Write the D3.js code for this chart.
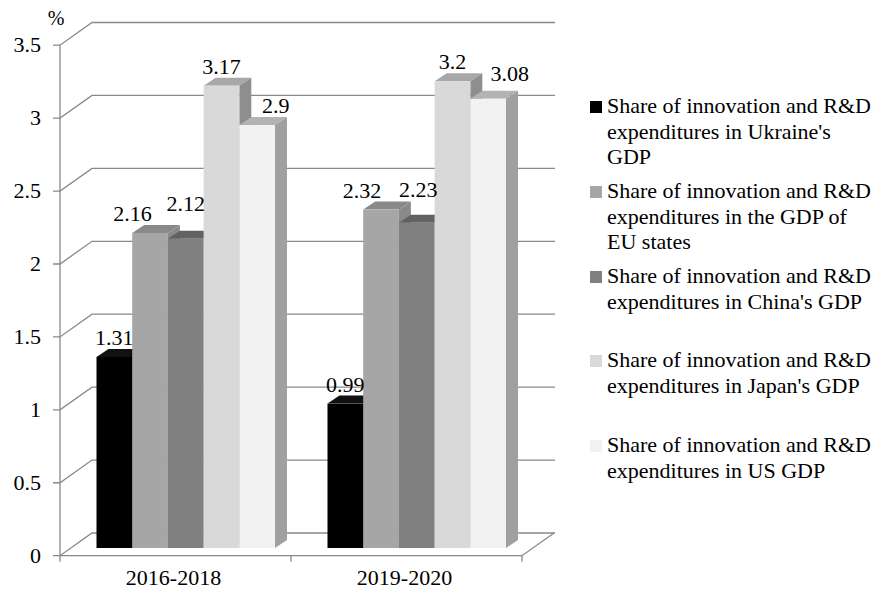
<!DOCTYPE html>
<html>
<head>
<meta charset="utf-8">
<script src="https://cdn.jsdelivr.net/npm/d3@7"></script>
<style>
  body { margin: 0; background: #fff; }
</style>
</head>
<body>
<svg id="chart" width="877" height="590"></svg>
<script>
// Data
var categories = ['2016-2018', '2019-2020']
var ukraine = [1.31, 0.99]
var eu = [2.16, 2.32]
var china = [2.12, 2.23]
var japan = [3.17, 3.2]
var usa = [2.9, 3.08]
var yTicks = [0, 0.5, 1, 1.5, 2, 2.5, 3, 3.5]

var legendLines = [
  ['Share of innovation and R&D', "expenditures in Ukraine's", 'GDP'],
  ['Share of innovation and R&D', 'expenditures in the GDP of', 'EU states'],
  ['Share of innovation and R&D', "expenditures in China's GDP"],
  ['Share of innovation and R&D', "expenditures in Japan's GDP"],
  ['Share of innovation and R&D', 'expenditures in US GDP']
]

// label nudges [dx, dy] per series, per category (Excel moved some labels)
var labelNudge = [
  [[0, 0], [0, 0]],
  [[-17.5, 0], [-19, 0]],
  [[0, -16], [1.5, -14]],
  [[0, 0], [0, 0]],
  [[18.5, 0], [21.5, -6]]
]

var series = [ukraine, eu, china, japan, usa]
// front, top, side
var colors = [
  ['#000000', '#111111', '#000000'],
  ['#a6a6a6', '#898989', '#8a8a8a'],
  ['#808080', '#626262', '#5e5e5e'],
  ['#d9d9d9', '#a8a8a8', '#8e8e8e'],
  ['#f2f2f2', '#b3b3b3', '#a0a0a0']
]

var FONT = '"Liberation Serif"'

var svg = d3.select('#chart')

// geometry
var frontBase = 555.7, backBase = 533, barBase = 548
var axisX = 60, wallX = 92, wallRight = 555
var depthX = wallX - axisX, depthY = backBase - frontBase
var barDX = 12, barDY = -8

var h = d3.scaleLinear().domain([0, 3.5]).range([0, 510.5])
var x = d3.scaleBand().domain(categories).range([60, 522])
var barW = 35.7
var inner = d3.scaleBand().domain(d3.range(5)).range([36.5, 36.5 + barW * 5])

var gridColor = '#898989'

// gridlines on back wall + connectors to front axis
var grid = svg.append('g').attr('stroke', gridColor).attr('stroke-width', 1.3).attr('fill', 'none')
yTicks.forEach(function(t){
  var yf = frontBase - h(t), yb = backBase - h(t)
  grid.append('path').attr('d', 'M' + (axisX - 7) + ',' + yf + 'H' + axisX + 'L' + wallX + ',' + yb + 'H' + wallRight)
})
// front axis and floor
grid.append('path').attr('d', 'M' + axisX + ',' + (frontBase - h(3.5)) + 'V' + frontBase)
grid.append('path').attr('d', 'M' + axisX + ',' + frontBase + 'H522L' + (522 + depthX) + ',' + (frontBase + depthY))
;[60, 291, 522].forEach(function(px){
  grid.append('path').attr('d', 'M' + px + ',' + frontBase + 'V' + (frontBase + 6))
})

// tick labels
svg.append('g').selectAll('text').data(yTicks).join('text')
  .attr('x', 41)
  .attr('y', function(d){ return frontBase - h(d) + 7 })
  .attr('text-anchor', 'end')
  .style('font-family', FONT).style('font-size', '22px')
  .text(function(d){ return d })

svg.append('text').attr('x', 56).attr('y', 25).attr('text-anchor', 'middle')
  .style('font-family', FONT).style('font-size', '20px').text('%')

// bars
var bars = svg.append('g')
categories.forEach(function(cat, ci){
  series.forEach(function(s, si){
    var v = s[ci]
    var x0 = x(cat) + inner(si), x1 = x0 + barW
    var yTop = barBase - h(v)
    var c = colors[si]
    bars.append('path').attr('fill', c[1])
      .attr('d', 'M' + x0 + ',' + yTop + 'L' + (x0 + barDX) + ',' + (yTop + barDY) + 'H' + (x1 + barDX) + 'L' + x1 + ',' + yTop + 'Z')
    bars.append('path').attr('fill', c[2])
      .attr('d', 'M' + x1 + ',' + yTop + 'L' + (x1 + barDX) + ',' + (yTop + barDY) + 'V' + (barBase + barDY) + 'L' + x1 + ',' + barBase + 'Z')
    bars.append('rect').attr('fill', c[0])
      .attr('x', x0).attr('y', yTop).attr('width', barW).attr('height', barBase - yTop)
  })
})

// data labels
var labels = svg.append('g')
categories.forEach(function(cat, ci){
  series.forEach(function(s, si){
    var v = s[ci]
    var nud = labelNudge[si][ci]
    labels.append('text')
      .attr('x', x(cat) + inner(si) + barW / 2 + nud[0])
      .attr('y', barBase - h(v) - 12 + nud[1])
      .attr('text-anchor', 'middle')
      .style('font-family', FONT).style('font-size', '22px')
      .text(v)
  })
})

// category labels
svg.append('g').selectAll('text').data(categories).join('text')
  .attr('x', function(d){ return x(d) + x.bandwidth() / 2 - 2 })
  .attr('y', 585)
  .attr('text-anchor', 'middle')
  .style('font-family', FONT).style('font-size', '22px')
  .text(function(d){ return d })

// legend
var legendTop = [113, 198, 283, 367, 452]
var legend = svg.append('g')
legendLines.forEach(function(lines, i){
  var g = legend.append('g')
  g.append('rect').attr('x', 590).attr('y', legendTop[i] - 12).attr('width', 12).attr('height', 12)
    .attr('fill', colors[i][0])
  lines.forEach(function(line, li){
    g.append('text').attr('x', 607).attr('y', legendTop[i] + li * 25.5)
      .style('font-family', FONT).style('font-size', '22px').text(line)
  })
})
</script>
</body>
</html>
